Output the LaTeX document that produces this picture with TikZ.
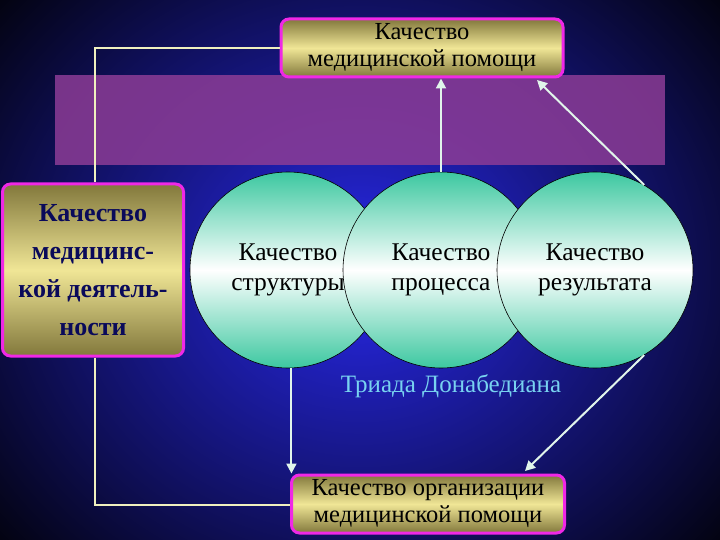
\documentclass[tikz,border=0pt]{standalone}
\usepackage{fontspec}
\setmainfont{Liberation Serif}
\usetikzlibrary{arrows.meta,shadings}
\definecolor{navy}{RGB}{10,10,90}
\definecolor{teal1}{RGB}{60,200,160}
\definecolor{olive1}{RGB}{130,120,60}
\definecolor{yel1}{RGB}{240,230,150}
\definecolor{mag}{RGB}{240,40,230}
\definecolor{lline}{RGB}{240,240,190}
\definecolor{arr}{RGB}{225,245,235}
\definecolor{cyantxt}{RGB}{120,210,240}
\definecolor{bgblue}{RGB}{40,40,235}
\definecolor{band}{RGB}{140,60,150}
\tikzset{
 box/.style={draw=mag,line width=3pt,rounded corners=8pt,top color=olive1,bottom color=olive1,middle color=yel1,shading angle=0},
 circ/.style={circle,draw=black,line width=0.6pt,minimum size=196pt,inner sep=0pt,top color=teal1,bottom color=teal1,middle color=white,font=\fontsize{25.5}{30}\selectfont,align=center},
 conn/.style={lline,line width=2pt},
 arrw/.style={arr,line width=2pt,-{Triangle[length=10pt,width=10pt]}}
}
\begin{document}
\begin{tikzpicture}[x=1pt,y=-1pt]
\useasboundingbox (0,0) rectangle (720,540);
\begin{scope}
\clip (0,0) rectangle (720,540);
\shade[inner color=bgblue,outer color=black] (-150,-180) rectangle (870,720);
\end{scope}
\fill[band,opacity=0.85] (55,75) rectangle (665,165);
\node[box,minimum width=282pt,minimum height=58pt,align=center,font=\fontsize{24.5}{27}\selectfont] (top) at (422,48) {Качество\\медицинской помощи};
\node[box,minimum width=181pt,minimum height=172pt,align=center,text=navy,font=\bfseries\fontsize{26}{38}\selectfont] (left) at (93,270) {Качество\\медицинс-\\кой деятель-\\ности};
\node[box,minimum width=273pt,minimum height=58pt,align=center,font=\fontsize{24.5}{27}\selectfont] (bot) at (428,504) {Качество организации\\медицинской помощи};
\node[circ] (c1) at (288,270) {Качество\\структуры};
\node[circ] (c2) at (441,270) {Качество\\процесса};
\node[circ] (c3) at (595,270) {Качество\\результата};
\node[text=cyantxt,font=\fontsize{25}{28}\selectfont] (tri) at (451,386) {Триада Донабедиана};
\coordinate (a1) at (95,48);
\coordinate (a2) at (95,505);
\draw[conn] (top.west) -- (a1) -- (left.north -| a1);
\draw[conn] (left.south -| a2) -- (a2) -- (bot.west |- a2);
\draw[arrw] (c2.north) -- (c2.north |- top.south);
\draw[arrw] (c3.60) -- (537,80);
\draw[arrw] (c1.272) -- (c1.272 |- bot.north);
\draw[arrw] (c3.-60) -- (525,471);
\end{tikzpicture}
\end{document}
